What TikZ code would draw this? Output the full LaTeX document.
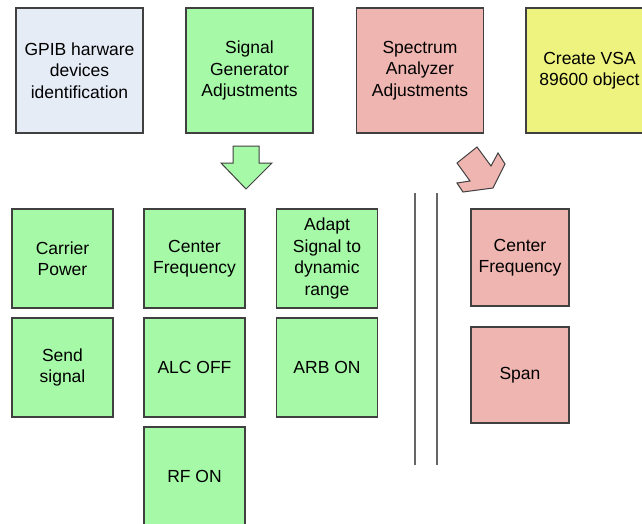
\documentclass[tikz,border=0pt]{standalone}
\usepackage{fontspec}
\setmainfont{Liberation Sans}
\definecolor{bluebox}{HTML}{E6ECF6}
\definecolor{greenbox}{HTML}{A6F9A6}
\definecolor{pinkbox}{HTML}{EFB5B0}
\definecolor{yellowbox}{HTML}{EEF27E}
\definecolor{edgegray}{HTML}{404040}
\tikzset{
  box/.style={draw=edgegray, line width=1.2pt, inner sep=0pt, align=center,
    font=\fontsize{17.5}{21.5}\selectfont, text=black},
  bigbox/.style={box, minimum width=127pt, minimum height=125pt},
  smallbox/.style={box, minimum width=101pt, minimum height=99pt},
  vline/.style={draw=gray!80!black, line width=1.3pt},
  bigarrow/.style={draw=edgegray, line width=1pt, line join=miter}
}
\begin{document}
\begin{tikzpicture}[x=1pt,y=-1pt]
\clip (0,0) rectangle (642,524);
\fill[white] (0,0) rectangle (642,524);
% top row
\node[bigbox, fill=bluebox] (gpib) at (79.5,70.5) {GPIB harware\\devices\\identification};
\node[bigbox, fill=greenbox] (siggen) at (249.5,70.5) {Signal\\Generator\\Adjustments};
\node[bigbox, fill=pinkbox] (specan) at (420,70.5) {Spectrum\\Analyzer\\Adjustments};
\node[bigbox, fill=yellowbox] (vsa) at (589.5,70.5) {Create VSA\\89600 object};
% signal generator steps
\node[smallbox, fill=greenbox] (carrier) at (62.5,258.5) {Carrier\\Power};
\node[smallbox, fill=greenbox] (cfreq) at (194.5,258.5) {Center\\Frequency};
\node[smallbox, fill=greenbox] (adapt) at (327,258.5) {Adapt\\Signal to\\dynamic\\range};
\node[smallbox, fill=greenbox] (send) at (62.5,367.5) {Send\\signal};
\node[smallbox, fill=greenbox] (alc) at (194.5,367.5) {ALC OFF};
\node[smallbox, fill=greenbox] (arb) at (327,367.5) {ARB ON};
\node[smallbox, fill=greenbox] (rfon) at (194.5,476.5) {RF ON};
% spectrum analyzer steps
\node[box, fill=pinkbox, minimum width=98pt, minimum height=97pt] (sacf) at (520,257.5) {Center\\Frequency};
\node[box, fill=pinkbox, minimum width=98pt, minimum height=96pt] (span) at (520,375) {Span};
% separator lines
\coordinate (l1top) at (415,193);
\coordinate (l1bot) at (415,465);
\coordinate (l2top) at (437,193);
\coordinate (l2bot) at (437,465);
\draw[vline] (l1top) -- (l1bot);
\draw[vline] (l2top) -- (l2bot);
% arrows
\draw[bigarrow, fill=greenbox] (233,146) -- (259,146) -- (259,163) -- (272,163) -- (246,189) -- (221,163) -- (233,163) -- cycle;
\draw[bigarrow, fill=pinkbox] (457,163) -- (477,147) -- (491,166) -- (498,153) -- (505,164) -- (493,188) -- (463,192) -- (457,183) -- (470,181) -- cycle;
\end{tikzpicture}
\end{document}
